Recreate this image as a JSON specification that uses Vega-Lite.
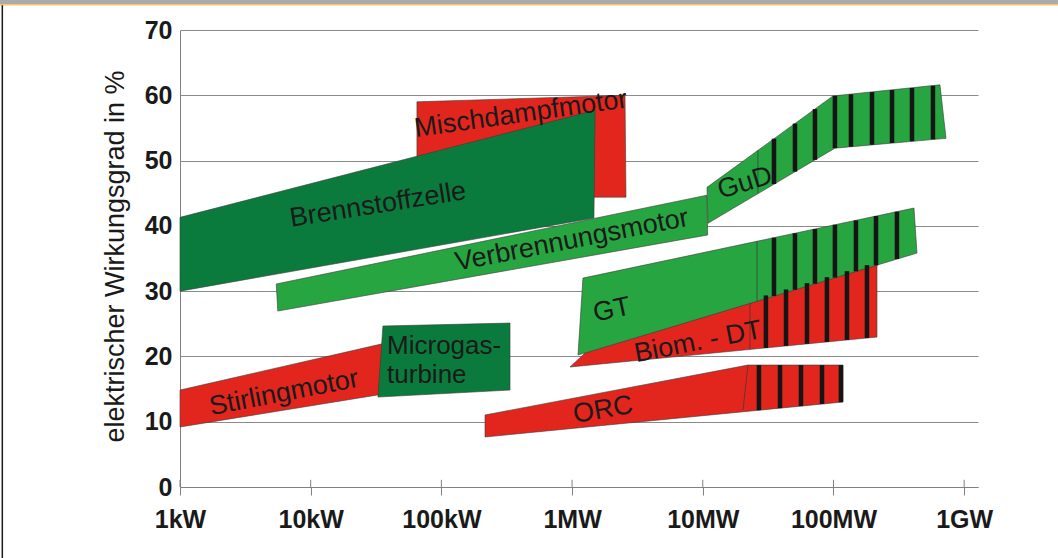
{
  "$schema": "https://vega.github.io/schema/vega-lite/v6.json",
  "width": 798,
  "height": 457,
  "autosize": "none",
  "padding": {"left": 180, "top": 30, "right": 80, "bottom": 71},
  "background": "white",
  "config": {"view": {"stroke": null}, "font": "Liberation Sans"},
  "datasets": {
    "poly": [
      {"name": "Mischdampfmotor", "typ": "rot", "i": 0, "P": 65, "eta": 50.1},
      {"name": "Mischdampfmotor", "typ": "rot", "i": 1, "P": 65, "eta": 59.0},
      {"name": "Mischdampfmotor", "typ": "rot", "i": 2, "P": 2540, "eta": 60.0},
      {"name": "Mischdampfmotor", "typ": "rot", "i": 3, "P": 2585, "eta": 44.4},
      {"name": "Mischdampfmotor", "typ": "rot", "i": 4, "P": 1300, "eta": 44.4},
      {"name": "Brennstoffzelle", "typ": "dunkel", "i": 0, "P": 1, "eta": 30.0},
      {"name": "Brennstoffzelle", "typ": "dunkel", "i": 1, "P": 1, "eta": 41.3},
      {"name": "Brennstoffzelle", "typ": "dunkel", "i": 2, "P": 1500, "eta": 57.7},
      {"name": "Brennstoffzelle", "typ": "dunkel", "i": 3, "P": 1470, "eta": 41.2},
      {"name": "Verbrennungsmotor", "typ": "hell", "i": 0, "P": 5.6, "eta": 26.95},
      {"name": "Verbrennungsmotor", "typ": "hell", "i": 1, "P": 5.45, "eta": 31.1},
      {"name": "Verbrennungsmotor", "typ": "hell", "i": 2, "P": 10770, "eta": 44.7},
      {"name": "Verbrennungsmotor", "typ": "hell", "i": 3, "P": 10900, "eta": 38.6},
      {"name": "GuD", "typ": "hell", "i": 0, "P": 10770, "eta": 45.9},
      {"name": "GuD", "typ": "hell", "i": 1, "P": 99100, "eta": 59.9},
      {"name": "GuD", "typ": "hell", "i": 2, "P": 653000, "eta": 61.6},
      {"name": "GuD", "typ": "hell", "i": 3, "P": 726000, "eta": 53.4},
      {"name": "GuD", "typ": "hell", "i": 4, "P": 102600, "eta": 51.9},
      {"name": "GuD", "typ": "hell", "i": 5, "P": 10960, "eta": 40.4},
      {"name": "Stirlingmotor", "typ": "rot", "i": 0, "P": 1, "eta": 9.19},
      {"name": "Stirlingmotor", "typ": "rot", "i": 1, "P": 1, "eta": 14.85},
      {"name": "Stirlingmotor", "typ": "rot", "i": 2, "P": 40.4, "eta": 22.2},
      {"name": "Stirlingmotor", "typ": "rot", "i": 3, "P": 40.4, "eta": 14.4},
      {"name": "Microgasturbine", "typ": "dunkel", "i": 0, "P": 35.7, "eta": 24.66},
      {"name": "Microgasturbine", "typ": "dunkel", "i": 1, "P": 335, "eta": 25.11},
      {"name": "Microgasturbine", "typ": "dunkel", "i": 2, "P": 335, "eta": 14.85},
      {"name": "Microgasturbine", "typ": "dunkel", "i": 3, "P": 32.7, "eta": 13.78},
      {"name": "Biom-DT", "typ": "rot", "i": 0, "P": 964, "eta": 18.38},
      {"name": "Biom-DT", "typ": "rot", "i": 1, "P": 1256, "eta": 20.52},
      {"name": "Biom-DT", "typ": "rot", "i": 2, "P": 215300, "eta": 34.0},
      {"name": "Biom-DT", "typ": "rot", "i": 3, "P": 215300, "eta": 22.97},
      {"name": "GT", "typ": "hell", "i": 0, "P": 1110, "eta": 20.21},
      {"name": "GT", "typ": "hell", "i": 1, "P": 1211, "eta": 32.0},
      {"name": "GT", "typ": "hell", "i": 2, "P": 413000, "eta": 42.73},
      {"name": "GT", "typ": "hell", "i": 3, "P": 435500, "eta": 35.83},
      {"name": "ORC", "typ": "rot", "i": 0, "P": 215.7, "eta": 7.66},
      {"name": "ORC", "typ": "rot", "i": 1, "P": 215.7, "eta": 11.03},
      {"name": "ORC", "typ": "rot", "i": 2, "P": 22180, "eta": 18.68},
      {"name": "ORC", "typ": "rot", "i": 3, "P": 118300, "eta": 18.68},
      {"name": "ORC", "typ": "rot", "i": 4, "P": 118300, "eta": 13.02}
    ],
    "stripes": [
      {"P": 35060, "eta": 46.40, "eta2": 53.35},
      {"P": 50740, "eta": 48.30, "eta2": 55.67},
      {"P": 72150, "eta": 50.11, "eta2": 57.89},
      {"P": 102600, "eta": 51.91, "eta2": 59.91},
      {"P": 136100, "eta": 52.13, "eta2": 60.15},
      {"P": 197100, "eta": 52.42, "eta2": 60.49},
      {"P": 280500, "eta": 52.70, "eta2": 60.81},
      {"P": 398800, "eta": 52.97, "eta2": 61.12},
      {"P": 577000, "eta": 53.26, "eta2": 61.45},
      {"P": 35060, "eta": 29.25, "eta2": 38.19},
      {"P": 50740, "eta": 30.21, "eta2": 38.87},
      {"P": 72150, "eta": 31.13, "eta2": 39.52},
      {"P": 102600, "eta": 32.07, "eta2": 40.17},
      {"P": 148600, "eta": 33.03, "eta2": 40.84},
      {"P": 211500, "eta": 33.95, "eta2": 41.50},
      {"P": 306000, "eta": 34.92, "eta2": 42.17},
      {"P": 30420, "eta": 21.30, "eta2": 29.34},
      {"P": 43350, "eta": 21.61, "eta2": 30.26},
      {"P": 62700, "eta": 21.93, "eta2": 31.23},
      {"P": 89100, "eta": 22.22, "eta2": 32.14},
      {"P": 126800, "eta": 22.53, "eta2": 33.06},
      {"P": 180400, "eta": 22.83, "eta2": 33.98},
      {"P": 26900, "eta": 11.76, "eta2": 18.68},
      {"P": 38990, "eta": 12.08, "eta2": 18.68},
      {"P": 56400, "eta": 12.39, "eta2": 18.68},
      {"P": 81700, "eta": 12.71, "eta2": 18.68},
      {"P": 114000, "eta": 12.99, "eta2": 18.68}
    ],
    "sep": [
      {"P": 26430, "P2": 26430, "eta": 44.94, "eta2": 51.58},
      {"P": 25990, "P2": 25990, "eta": 28.47, "eta2": 37.64},
      {"P": 22960, "P2": 22960, "eta": 21.07, "eta2": 28.15},
      {"P": 22180, "P2": 20310, "eta": 18.68, "eta2": 11.79}
    ],
    "ticksIn": [
      {"P": 1, "eta": 0, "eta2": 1.1},
      {"P": 10, "eta": 0, "eta2": 1.1},
      {"P": 100, "eta": 0, "eta2": 1.1},
      {"P": 1000, "eta": 0, "eta2": 1.1},
      {"P": 10000, "eta": 0, "eta2": 1.1},
      {"P": 100000, "eta": 0, "eta2": 1.1},
      {"P": 1000000, "eta": 0, "eta2": 1.1}
    ]
  },
  "encoding": {
    "x": {
      "field": "P", "type": "quantitative",
      "scale": {"type": "log", "domain": [1, 1276000], "nice": false},
      "axis": {
        "title": null,
        "values": [1, 10, 100, 1000, 10000, 100000, 1000000],
        "labelExpr": "datum.value >= 1000000 ? '1GW' : (datum.value >= 1000 ? format(datum.value / 1000, 'd') + 'MW' : format(datum.value, 'd') + 'kW')",
        "labelFont": "Liberation Sans", "labelFontSize": 25, "labelFontWeight": "bold",
        "labelColor": "#1a1a1a", "labelPadding": 12, "labelFlush": false, "labelOverlap": false,
        "tickSize": 8, "tickColor": "#808080", "domainColor": "#808080", "grid": false
      }
    },
    "y": {
      "field": "eta", "type": "quantitative",
      "scale": {"domain": [0, 70], "nice": false},
      "axis": {
        "title": "elektrischer Wirkungsgrad in %",
        "values": [0, 10, 20, 30, 40, 50, 60, 70],
        "labelFont": "Liberation Sans", "labelFontSize": 25, "labelFontWeight": "bold",
        "labelColor": "#1a1a1a", "labelPadding": 8,
        "ticks": false, "domainColor": "#808080",
        "grid": true, "gridColor": "#8a8a8a", "gridWidth": 1,
        "titleFont": "Liberation Sans", "titleFontSize": 27, "titleFontWeight": "normal",
        "titleColor": "#1a1a1a", "titleX": -65, "titleY": 226, "titleAngle": -90,
        "titleAlign": "center", "titleBaseline": "middle"
      }
    }
  },
  "layer": [
    {
      "data": {"name": "poly"},
      "transform": [{"filter": "datum.name === 'Mischdampfmotor'"}],
      "mark": {"type": "line", "interpolate": "linear-closed", "stroke": "#3a3a3a", "strokeWidth": 0.6},
      "encoding": {"order": {"field": "i"}, "detail": {"field": "name"},
        "fill": {"field": "typ", "scale": {"domain": ["rot", "dunkel", "hell"], "range": ["#e2261d", "#0b7b3d", "#27a540"]}, "legend": null}}
    },
    {
      "data": {"name": "poly"},
      "transform": [{"filter": "datum.name === 'Brennstoffzelle'"}],
      "mark": {"type": "line", "interpolate": "linear-closed", "stroke": "#3a3a3a", "strokeWidth": 0.6},
      "encoding": {"order": {"field": "i"}, "detail": {"field": "name"},
        "fill": {"field": "typ", "scale": {"domain": ["rot", "dunkel", "hell"], "range": ["#e2261d", "#0b7b3d", "#27a540"]}, "legend": null}}
    },
    {
      "data": {"name": "poly"},
      "transform": [{"filter": "datum.name === 'Verbrennungsmotor'"}],
      "mark": {"type": "line", "interpolate": "linear-closed", "stroke": "#3a3a3a", "strokeWidth": 0.6},
      "encoding": {"order": {"field": "i"}, "detail": {"field": "name"},
        "fill": {"field": "typ", "scale": {"domain": ["rot", "dunkel", "hell"], "range": ["#e2261d", "#0b7b3d", "#27a540"]}, "legend": null}}
    },
    {
      "data": {"name": "poly"},
      "transform": [{"filter": "datum.name === 'GuD'"}],
      "mark": {"type": "line", "interpolate": "linear-closed", "stroke": "#3a3a3a", "strokeWidth": 0.6},
      "encoding": {"order": {"field": "i"}, "detail": {"field": "name"},
        "fill": {"field": "typ", "scale": {"domain": ["rot", "dunkel", "hell"], "range": ["#e2261d", "#0b7b3d", "#27a540"]}, "legend": null}}
    },
    {
      "data": {"name": "poly"},
      "transform": [{"filter": "datum.name === 'Stirlingmotor'"}],
      "mark": {"type": "line", "interpolate": "linear-closed", "stroke": "#3a3a3a", "strokeWidth": 0.6},
      "encoding": {"order": {"field": "i"}, "detail": {"field": "name"},
        "fill": {"field": "typ", "scale": {"domain": ["rot", "dunkel", "hell"], "range": ["#e2261d", "#0b7b3d", "#27a540"]}, "legend": null}}
    },
    {
      "data": {"name": "poly"},
      "transform": [{"filter": "datum.name === 'Microgasturbine'"}],
      "mark": {"type": "line", "interpolate": "linear-closed", "stroke": "#3a3a3a", "strokeWidth": 0.6},
      "encoding": {"order": {"field": "i"}, "detail": {"field": "name"},
        "fill": {"field": "typ", "scale": {"domain": ["rot", "dunkel", "hell"], "range": ["#e2261d", "#0b7b3d", "#27a540"]}, "legend": null}}
    },
    {
      "data": {"name": "poly"},
      "transform": [{"filter": "datum.name === 'Biom-DT'"}],
      "mark": {"type": "line", "interpolate": "linear-closed", "stroke": "#3a3a3a", "strokeWidth": 0.6},
      "encoding": {"order": {"field": "i"}, "detail": {"field": "name"},
        "fill": {"field": "typ", "scale": {"domain": ["rot", "dunkel", "hell"], "range": ["#e2261d", "#0b7b3d", "#27a540"]}, "legend": null}}
    },
    {
      "data": {"name": "poly"},
      "transform": [{"filter": "datum.name === 'GT'"}],
      "mark": {"type": "line", "interpolate": "linear-closed", "stroke": "#3a3a3a", "strokeWidth": 0.6},
      "encoding": {"order": {"field": "i"}, "detail": {"field": "name"},
        "fill": {"field": "typ", "scale": {"domain": ["rot", "dunkel", "hell"], "range": ["#e2261d", "#0b7b3d", "#27a540"]}, "legend": null}}
    },
    {
      "data": {"name": "poly"},
      "transform": [{"filter": "datum.name === 'ORC'"}],
      "mark": {"type": "line", "interpolate": "linear-closed", "stroke": "#3a3a3a", "strokeWidth": 0.6},
      "encoding": {"order": {"field": "i"}, "detail": {"field": "name"},
        "fill": {"field": "typ", "scale": {"domain": ["rot", "dunkel", "hell"], "range": ["#e2261d", "#0b7b3d", "#27a540"]}, "legend": null}}
    },
    {
      "data": {"name": "sep"},
      "mark": {"type": "rule", "color": "#3a3a3a", "strokeWidth": 0.7},
      "encoding": {"x2": {"field": "P2"}, "y2": {"field": "eta2"}}
    },
    {
      "data": {"name": "stripes"},
      "mark": {"type": "rule", "color": "#151515", "strokeWidth": 4.5},
      "encoding": {"y2": {"field": "eta2"}}
    },
    {
      "data": {"name": "ticksIn"},
      "mark": {"type": "rule", "color": "#808080", "strokeWidth": 1},
      "encoding": {"y2": {"field": "eta2"}}
    },
    {
      "data": {"values": [{"P": 406, "eta": 57.1, "t": "Mischdampfmotor"}]},
      "mark": {"type": "text", "angle": 352, "fontSize": 27, "font": "Liberation Sans", "color": "#1a1a1a", "align": "center", "baseline": "middle"},
      "encoding": {"text": {"field": "t"}}
    },
    {
      "data": {"values": [{"P": 32.7, "eta": 43.2, "t": "Brennstoffzelle"}]},
      "mark": {"type": "text", "angle": 351, "fontSize": 27, "font": "Liberation Sans", "color": "#1a1a1a", "align": "center", "baseline": "middle"},
      "encoding": {"text": {"field": "t"}}
    },
    {
      "data": {"values": [{"P": 998, "eta": 37.8, "t": "Verbrennungsmotor"}]},
      "mark": {"type": "text", "angle": 349, "fontSize": 27, "font": "Liberation Sans", "color": "#1a1a1a", "align": "center", "baseline": "middle"},
      "encoding": {"text": {"field": "t"}}
    },
    {
      "data": {"values": [{"P": 21040, "eta": 46.55, "t": "GuD"}]},
      "mark": {"type": "text", "angle": 343, "fontSize": 27, "font": "Liberation Sans", "color": "#1a1a1a", "align": "center", "baseline": "middle"},
      "encoding": {"text": {"field": "t"}}
    },
    {
      "data": {"values": [{"P": 2018, "eta": 27.1, "t": "GT"}]},
      "mark": {"type": "text", "angle": 348, "fontSize": 27, "font": "Liberation Sans", "color": "#1a1a1a", "align": "center", "baseline": "middle"},
      "encoding": {"text": {"field": "t"}}
    },
    {
      "data": {"values": [{"P": 9190, "eta": 22.2, "t": "Biom. - DT"}]},
      "mark": {"type": "text", "angle": 349, "fontSize": 27, "font": "Liberation Sans", "color": "#1a1a1a", "align": "center", "baseline": "middle"},
      "encoding": {"text": {"field": "t"}}
    },
    {
      "data": {"values": [{"P": 1723, "eta": 11.8, "t": "ORC"}]},
      "mark": {"type": "text", "angle": 350, "fontSize": 27, "font": "Liberation Sans", "color": "#1a1a1a", "align": "center", "baseline": "middle"},
      "encoding": {"text": {"field": "t"}}
    },
    {
      "data": {"values": [{"P": 6.25, "eta": 14.4, "t": "Stirlingmotor"}]},
      "mark": {"type": "text", "angle": 349, "fontSize": 27, "font": "Liberation Sans", "color": "#1a1a1a", "align": "center", "baseline": "middle"},
      "encoding": {"text": {"field": "t"}}
    },
    {
      "data": {"values": [{"P": 38.4, "eta": 20.3, "t": "Microgas-"}, {"P": 38.4, "eta": 15.9, "t": "turbine"}]},
      "mark": {"type": "text", "fontSize": 26, "font": "Liberation Sans", "color": "#1a1a1a", "align": "left", "baseline": "alphabetic"},
      "encoding": {"text": {"field": "t"}}
    },
    {
      "data": {"values": [{"P": 0.0419, "P2": 5220000, "eta": 74.27}]},
      "mark": {"type": "rule", "color": "#ababab", "strokeWidth": 4.5, "clip": false},
      "encoding": {"x2": {"field": "P2"}}
    },
    {
      "data": {"values": [{"P": 0.0419, "P2": 5220000, "eta": 73.85}]},
      "mark": {"type": "rule", "color": "#fcc468", "strokeWidth": 1.5, "clip": false},
      "encoding": {"x2": {"field": "P2"}}
    },
    {
      "data": {"values": [{"P": 0.0437, "eta": 73.8, "eta2": -11}]},
      "mark": {"type": "rule", "color": "#1a1a1a", "strokeWidth": 1.5, "clip": false},
      "encoding": {"y2": {"field": "eta2"}}
    }
  ]
}
